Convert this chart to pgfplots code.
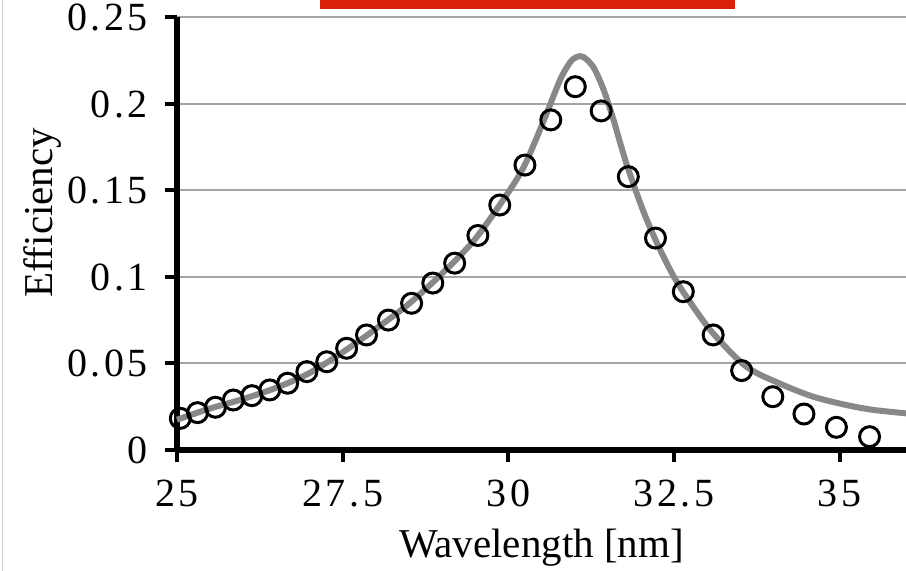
\documentclass[border=0pt]{standalone}
\usepackage{pgfplots}
\pgfplotsset{compat=1.18}
\usepackage{fontspec}
\setmainfont{Liberation Serif}
\newfontfamily\tickfont[LetterSpace=9]{Liberation Serif}
\definecolor{redbar}{RGB}{218,32,8}
\definecolor{gridgray}{RGB}{165,165,165}
\definecolor{curvegray}{RGB}{136,136,136}
\begin{document}
\begin{tikzpicture}
\useasboundingbox (0pt,0pt) rectangle (453pt,285.5pt);
\draw[gray!40, line width=0.6pt] (1.2pt,0pt) -- (1.2pt,285.5pt);
\fill[redbar] (160pt,281pt) rectangle (367.5pt,285.5pt);
\begin{axis}[
  at={(88.5pt,60.5pt)}, anchor=south west,
  width=364.5pt, height=216.25pt, scale only axis,
  xmin=25, xmax=36.0, ymin=0, ymax=0.25,
  clip=false,
  axis lines=left,
  axis line style={-, line width=2.8pt, black},
  ymajorgrids,
  grid style={gridgray, line width=1pt},
  xtick={25,27.5,30,32.5,35},
  xticklabels={25,27.5,30,32.5,35},
  ytick={0,0.05,0.1,0.15,0.2,0.25},
  yticklabels={0,0.05,0.1,0.15,0.2,0.25},
  tick align=outside,
  major tick length=6pt,
  tick style={black, line width=2pt},
  every tick label/.append style={font=\tickfont\fontsize{20}{24}\selectfont},
  xticklabel style={yshift=-5.5pt},
  yticklabel style={xshift=-5pt},
  label style={font=\fontsize{20.5}{24}\selectfont},
  xlabel={Wavelength [nm]},
  ylabel={Efficiency},
  xlabel style={at={(axis description cs:0.5,-0.2266)}, anchor=center},
  ylabel style={at={(axis description cs:-0.185,0.548)}, anchor=center},
]
\addplot[curvegray, line width=3pt, smooth, tension=0.5] coordinates {
(25.0,0.0175) (25.5,0.0240) (26.0,0.0295) (26.5,0.0360) (27.0,0.0445)
(27.5,0.0565) (28.0,0.0700) (28.5,0.0845) (29.0,0.1020) (29.5,0.1220)
(30.0,0.1490) (30.25,0.1650) (30.53,0.1900) (30.78,0.2139) (30.93,0.2240)
(31.03,0.2272) (31.13,0.2272) (31.28,0.2215) (31.43,0.2090) (31.58,0.1917) (31.78,0.1657)
(32.03,0.1387) (32.25,0.1190) (32.5,0.1000) (32.75,0.0850) (33.09,0.0674)
(33.59,0.0482) (34.09,0.0385) (34.6,0.0308) (35.1,0.0260) (35.5,0.0232)
(36.0,0.0212)
};
\addplot[only marks, mark=o, mark size=5pt, black, line width=1.5pt] coordinates {
(25.05,0.0183) (25.31,0.0216) (25.58,0.0247) (25.85,0.0289) (26.13,0.0314)
(26.40,0.0347) (26.67,0.0386) (26.96,0.0453) (27.26,0.0510) (27.56,0.0588)
(27.86,0.0665) (28.19,0.0751) (28.54,0.0848) (28.86,0.0965) (29.19,0.1080)
(29.54,0.1240) (29.87,0.1416) (30.25,0.1647) (30.64,0.1908) (31.01,0.2100)
(31.40,0.1960) (31.81,0.1580) (32.22,0.1225) (32.64,0.0915) (33.09,0.0665)
(33.52,0.0459) (33.99,0.0308) (34.46,0.0208) (34.95,0.0131) (35.45,0.0077)
};
\end{axis}
\end{tikzpicture}
\end{document}
